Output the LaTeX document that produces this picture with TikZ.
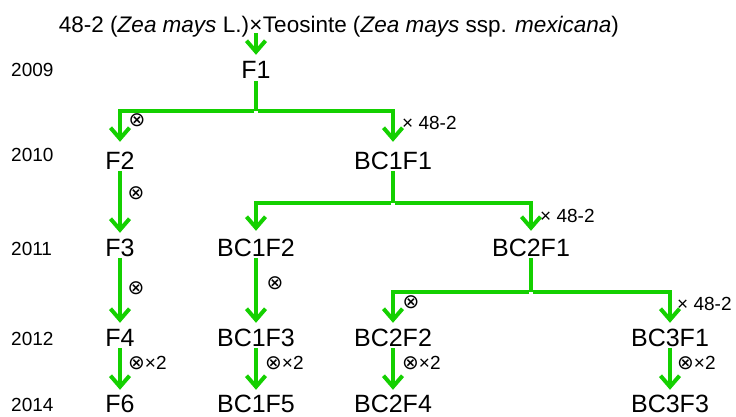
\documentclass[tikz,border=0pt]{standalone}
\usepackage{fontspec}
\setmainfont{Liberation Sans}
\newfontfamily\symfont{DejaVu Sans}
\usetikzlibrary{arrows.meta}
\definecolor{leafgreen}{RGB}{20,208,0}

\begin{document}
\begin{tikzpicture}[x=1pt,y=-1pt,
  ttl/.style={font=\fontsize{22.5}{22.5}\selectfont, inner sep=0pt, anchor=base},
  gen/.style={font=\fontsize{25}{25}\selectfont, inner sep=0pt, text height=18pt, text depth=0pt, anchor=base},
  yr/.style={font=\fontsize{19}{19}\selectfont, inner sep=0pt, anchor=base west},
  lbl/.style={font=\fontsize{19}{19}\selectfont, inner sep=0pt, anchor=base west},
  self/.style={font=\symfont\fontsize{20}{20}\selectfont, inner sep=0pt},
  link/.style={draw=leafgreen, line width=4pt},
  arr/.style={link, -{Straight Barb[length=11pt,width=19pt]}, shorten >=5pt, shorten <=2pt}]
\useasboundingbox (0,0) rectangle (736,417);

% parents
\node[ttl] (cross) at (256,33) {×};
\node[ttl, anchor=base east] (maize) at (cross.base west) {48-2 (\textit{Zea mays} L.)};
\node[ttl, anchor=base west] (teo) at (cross.base east) {Teosinte (\textit{Zea mays} ssp. \textit{mexicana})};

% years
\node[yr] (y09) at (11,77) {2009};
\node[yr] (y10) at (11,161) {2010};
\node[yr] (y11) at (11,255) {2011};
\node[yr] (y12) at (11,345) {2012};
\node[yr] (y14) at (11,411) {2014};

% generations
\node[gen] (F1) at (256,79) {F1};
\node[gen] (F2) at (120,169) {F2};
\node[gen] (BC1F1) at (393,169) {BC1F1};
\node[gen] (F3) at (120,256) {F3};
\node[gen] (BC1F2) at (256,256) {BC1F2};
\node[gen] (BC2F1) at (531,256) {BC2F1};
\node[gen] (F4) at (120,346) {F4};
\node[gen] (BC1F3) at (256,346) {BC1F3};
\node[gen] (BC2F2) at (393,346) {BC2F2};
\node[gen] (BC3F1) at (670,346) {BC3F1};
\node[gen] (F6) at (120,412) {F6};
\node[gen] (BC1F5) at (256,412) {BC1F5};
\node[gen] (BC2F4) at (393,412) {BC2F4};
\node[gen] (BC3F3) at (670,412) {BC3F3};

% branch points
\coordinate (j1) at (256,111);
\coordinate (j2) at (393,203);
\coordinate (j3) at (531,292);

% connectors
\draw[arr, shorten <=0pt, shorten >=6pt] (cross.south) -- (F1.north);

\draw[link, shorten <=2pt] (F1.south) -- (j1);
\draw[arr, shorten >=9pt] (j1) -| (F2.north);
\draw[arr, shorten >=9pt] (j1) -| (BC1F1.north);

\draw[arr] (F2) -- (F3);
\draw[link, shorten <=2pt] (BC1F1.south) -- (j2);
\draw[arr, shorten >=7pt] (j2) -| (BC1F2.north);
\draw[arr, shorten >=7pt] (j2) -| (BC2F1.north);

\draw[arr] (F3.south) -- (F4.north);
\draw[arr] (BC1F2.south) -- (BC1F3.north);
\draw[link, shorten <=2pt] (BC2F1.south) -- (j3);
\draw[arr] (j3) -| (BC2F2.north);
\draw[arr] (j3) -| (BC3F1.north);

\draw[arr, shorten >=4pt] (F4.south) -- (F6.north);
\draw[arr, shorten >=4pt] (BC1F3.south) -- (BC1F5.north);
\draw[arr, shorten >=4pt] (BC2F2.south) -- (BC2F4.north);
\draw[arr, shorten >=4pt] (BC3F1.south) -- (BC3F3.north);

% crossing labels
\node[self] (s1) at (137,120) {⊗};
\node[lbl] (b1) at (402,130) {× 48-2};
\node[self] (s2) at (136,193) {⊗};
\node[lbl] (b2) at (540,222) {× 48-2};
\node[self] (s3) at (136,288) {⊗};
\node[self] (s4) at (275,283) {⊗};
\node[self] (s5) at (411,302) {⊗};
\node[lbl] (b3) at (677,310) {× 48-2};
\node[lbl] (t1) at (128,369) {{\symfont\fontsize{20}{20}\selectfont ⊗}×2};
\node[lbl] (t2) at (265,369) {{\symfont\fontsize{20}{20}\selectfont ⊗}×2};
\node[lbl] (t3) at (402,369) {{\symfont\fontsize{20}{20}\selectfont ⊗}×2};
\node[lbl] (t4) at (677,369) {{\symfont\fontsize{20}{20}\selectfont ⊗}×2};
\end{tikzpicture}
\end{document}
